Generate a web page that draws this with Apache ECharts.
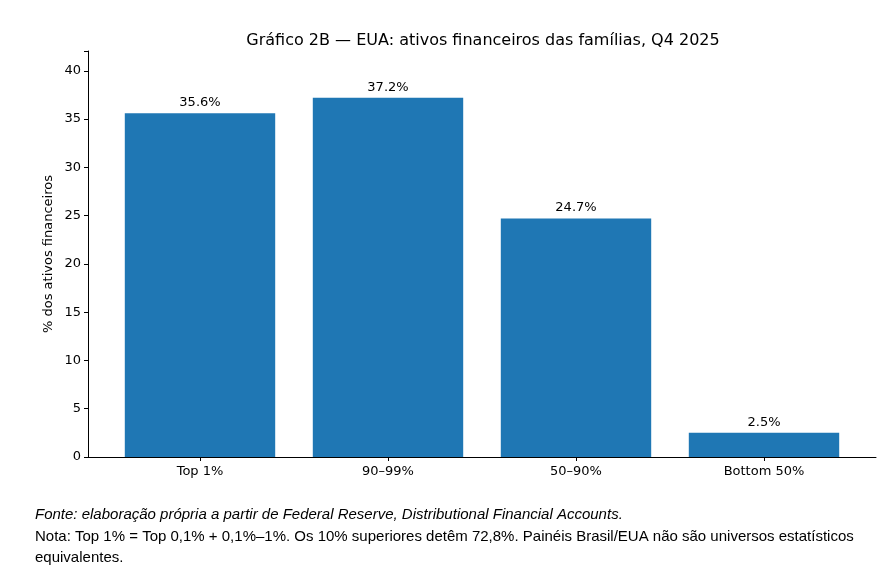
<!DOCTYPE html>
<html>
<head>
<meta charset="utf-8">
<script src="https://cdn.jsdelivr.net/npm/echarts@6/dist/echarts.min.js"></script>
<style>
  html, body { margin: 0; padding: 0; background: #fff; }
  #chart { width: 894px; height: 574px; }
</style>
</head>
<body>
<div id="chart"></div>
<script>
// dados do gráfico
const categories = ['Top 1%', '90–99%', '50–90%', 'Bottom 50%']
const shares = [35.6, 37.2, 24.7, 2.5]
const yTicks = [0, 5, 10, 15, 20, 25, 30, 35, 40]

const titleText = 'Gráfico 2B — EUA: ativos financeiros das famílias, Q4 2025'
const yName = '% dos ativos financeiros'
const sourceLine = 'Fonte: elaboração própria a partir de Federal Reserve, Distributional Financial Accounts.'
const noteLines = [
  'Nota: Top 1% = Top 0,1% + 0,1%–1%. Os 10% superiores detêm 72,8%. Painéis Brasil/EUA não são universos estatísticos',
  'equivalentes.'
]

const font = 'DejaVu Sans'
const yMax = 42.05

const chart = echarts.init(document.getElementById('chart'), null, { renderer: 'canvas' })

const option = {
  animation: false,
  backgroundColor: '#fff',
  title: {
    text: titleText,
    left: 478,
    top: 28,
    textAlign: 'center',
    textStyle: { fontFamily: font, fontSize: 16, fontWeight: 'normal', color: '#000' }
  },
  // grid 0: molduras e eixo y; grid 1: barras (faixas de categoria como no matplotlib)
  grid: [
    { left: 88, right: 18, top: 51, bottom: 117 },
    { left: 106, right: 36, top: 51, bottom: 117 }
  ],
  xAxis: [
    {
      type: 'value', gridIndex: 0, min: 0, max: 1,
      axisLine: { show: true, lineStyle: { color: '#000', width: 1 } },
      axisTick: { show: false }, axisLabel: { show: false }, splitLine: { show: false }
    },
    {
      type: 'category', gridIndex: 1, data: categories,
      axisLine: { show: false },
      axisTick: { show: true, alignWithLabel: true, length: 4, lineStyle: { color: '#000' } },
      axisLabel: { fontFamily: font, fontSize: 13, color: '#000', margin: 8 },
      splitLine: { show: false }
    }
  ],
  yAxis: [
    {
      type: 'value', gridIndex: 0, min: 0, max: yMax, interval: 5,
      name: yName, nameLocation: 'middle', nameGap: 33, nameRotate: 90,
      nameMoveOverlap: false,
      nameTextStyle: { fontFamily: font, fontSize: 13, color: '#000' },
      axisLine: { show: true, lineStyle: { color: '#000', width: 1 } },
      axisTick: { show: true, length: 4, lineStyle: { color: '#000' } },
      axisLabel: {
        fontFamily: font, fontSize: 13, color: '#000', margin: 7,
        formatter: v => (yTicks.includes(v) ? String(v) : '')
      },
      splitLine: { show: false }
    },
    {
      type: 'value', gridIndex: 1, min: 0, max: yMax,
      show: false, splitLine: { show: false }
    }
  ],
  series: [
    {
      type: 'bar',
      xAxisIndex: 1, yAxisIndex: 1,
      data: shares,
      barCategoryGap: '20%',
      itemStyle: { color: '#1f77b4' },
      label: {
        show: true, position: 'top', distance: 4,
        fontFamily: font, fontSize: 13, color: '#000',
        formatter: p => p.value.toFixed(1) + '%'
      }
    }
  ],
  graphic: [
    {
      type: 'text', left: 35, top: 507,
      style: {
        text: sourceLine,
        font: 'italic 15px "Liberation Sans", Arial, sans-serif',
        fill: '#000'
      }
    },
    {
      type: 'text', left: 35, top: 527,
      style: {
        text: noteLines.join('\n'),
        font: '15px "Liberation Sans", Arial, sans-serif',
        lineHeight: 20.5,
        fill: '#000'
      }
    }
  ]
}

chart.setOption(option)
</script>
</body>
</html>
